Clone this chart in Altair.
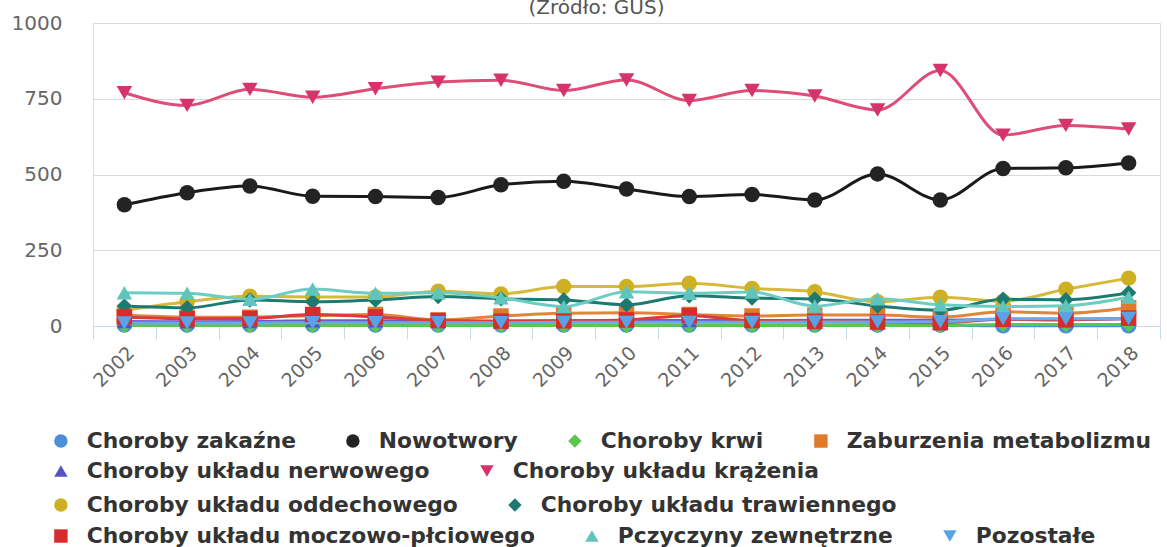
import altair as alt
import pandas as pd

# Lata (oś X)
years = ["2002", "2003", "2004", "2005", "2006", "2007", "2008", "2009", "2010",
         "2011", "2012", "2013", "2014", "2015", "2016", "2017", "2018"]

# Wartości serii
zakazne      = [3, 3, 3, 3, 3, 3, 3, 3, 3, 3, 3, 3, 3, 3, 1, 1, 1]
nowotwory    = [400, 440, 462, 428, 427, 424, 466, 478, 452, 427, 434, 416, 502, 416, 520, 522, 538]
krew         = [2, 2, 2, 2, 2, 2, 2, 2, 2, 2, 2, 2, 2, 2, 5, 5, 5]
metabolizm   = [36, 29, 29, 34, 38, 20, 33, 42, 44, 38, 33, 36, 36, 29, 47, 42, 60]
nerwowy      = [15, 14, 15, 17, 17, 16, 16, 17, 18, 18, 18, 19, 19, 19, 22, 22, 24]
krazenie     = [770, 728, 781, 755, 783, 805, 811, 777, 812, 744, 777, 759, 713, 843, 630, 662, 650]
oddechowy    = [52, 80, 98, 96, 96, 115, 106, 130, 130, 141, 124, 113, 80, 95, 82, 121, 158]
trawienny    = [66, 60, 86, 80, 86, 97, 90, 86, 70, 100, 92, 89, 66, 52, 88, 87, 110]
moczowy      = [30, 24, 25, 38, 30, 18, 16, 17, 20, 34, 18, 15, 13, 11, 22, 20, 26]
zewnetrzne   = [110, 108, 88, 122, 108, 110, 93, 64, 113, 108, 112, 66, 90, 70, 64, 67, 95]
pozostale    = [10, 10, 10, 11, 11, 11, 11, 12, 12, 12, 12, 13, 13, 14, 24, 24, 25]

series = {
    "Choroby zakaźne": zakazne,
    "Nowotwory": nowotwory,
    "Choroby krwi": krew,
    "Zaburzenia metabolizmu": metabolizm,
    "Choroby układu nerwowego": nerwowy,
    "Choroby układu krążenia": krazenie,
    "Choroby układu oddechowego": oddechowy,
    "Choroby układu trawiennego": trawienny,
    "Choroby układu moczowo-płciowego": moczowy,
    "Pczyczyny zewnętrzne": zewnetrzne,
    "Pozostałe": pozostale,
}

marker_colors = {
    "Choroby zakaźne": "#4a8fd8",
    "Nowotwory": "#232323",
    "Choroby krwi": "#5cc64e",
    "Zaburzenia metabolizmu": "#e07b2c",
    "Choroby układu nerwowego": "#5552c6",
    "Choroby układu krążenia": "#d6336b",
    "Choroby układu oddechowego": "#cfb023",
    "Choroby układu trawiennego": "#1e7a70",
    "Choroby układu moczowo-płciowego": "#d82c2c",
    "Pczyczyny zewnętrzne": "#5fc4bb",
    "Pozostałe": "#5aa2e6",
}
line_colors = {
    "Choroby zakaźne": "#4a8fd8",
    "Nowotwory": "#1a1a1a",
    "Choroby krwi": "#5cc64e",
    "Zaburzenia metabolizmu": "#e2843a",
    "Choroby układu nerwowego": "#6a5ccc",
    "Choroby układu krążenia": "#dd4d78",
    "Choroby układu oddechowego": "#d6b93a",
    "Choroby układu trawiennego": "#1e7a70",
    "Choroby układu moczowo-płciowego": "#dc3b3b",
    "Pczyczyny zewnętrzne": "#6ccdc3",
    "Pozostałe": "#6aaae6",
}
shapes = {
    "Choroby zakaźne": "circle",
    "Nowotwory": "circle",
    "Choroby krwi": "diamond",
    "Zaburzenia metabolizmu": "square",
    "Choroby układu nerwowego": "triangle-up",
    "Choroby układu krążenia": "triangle-down",
    "Choroby układu oddechowego": "circle",
    "Choroby układu trawiennego": "diamond",
    "Choroby układu moczowo-płciowego": "square",
    "Pczyczyny zewnętrzne": "triangle-up",
    "Pozostałe": "triangle-down",
}

# Wiersze legendy i ich położenie względem obszaru wykresu
legend_rows = [
    ["Choroby zakaźne", "Nowotwory", "Choroby krwi", "Zaburzenia metabolizmu"],
    ["Choroby układu nerwowego", "Choroby układu krążenia"],
    ["Choroby układu oddechowego", "Choroby układu trawiennego"],
    ["Choroby układu moczowo-płciowego", "Pczyczyny zewnętrzne", "Pozostałe"],
]
legend_y = [407, 437, 471, 502]

records = []
for name, values in series.items():
    for year, v in zip(years, values):
        records.append({"rok": year, "seria": name, "liczba": v})
df = pd.DataFrame(records)

FONT = "DejaVu Sans"

x_enc = alt.X(
    "rok:O",
    sort=years,
    bandPosition=0.5,
    scale=alt.Scale(type="band", paddingInner=0, paddingOuter=0),
    axis=alt.Axis(
        title=None,
        labelAngle=-45,
        labelFont=FONT,
        labelFontSize=19,
        labelColor="#666666",
        labelPadding=4,
        tickBand="extent",
        tickSize=13,
        tickColor="#ccd6eb",
        domainColor="#ccd6eb",
        grid=False,
    ),
)
y_enc = alt.Y(
    "liczba:Q",
    scale=alt.Scale(domain=[0, 1000], nice=False),
    axis=alt.Axis(
        title=None,
        values=[0, 250, 500, 750, 1000],
        format="d",
        domain=False,
        ticks=False,
        labelFont=FONT,
        labelFontSize=20,
        labelColor="#666666",
        labelPadding=31,
        gridColor="#dadada",
        gridWidth=1,
    ),
)

layers = []
for row, ly in zip(legend_rows, legend_y):
    sub = df[df["seria"].isin(row)]
    legend = alt.Legend(
        orient="none",
        legendX=-43,
        legendY=ly,
        direction="horizontal",
        title=None,
        labelFont=FONT,
        labelFontSize=21.8,
        labelFontWeight="bold",
        labelColor="#333333",
        labelLimit=600,
        labelOffset=15,
        columnPadding=46,
        symbolSize=180,
        symbolStrokeWidth=0,
        symbolOpacity=1,
    )
    lines = alt.Chart(sub).mark_line(interpolate="monotone", strokeWidth=3).encode(
        x=x_enc,
        y=y_enc,
        stroke=alt.Stroke(
            "seria:N",
            scale=alt.Scale(domain=row, range=[line_colors[n] for n in row]),
            legend=None,
        ),
    )
    points = alt.Chart(sub).mark_point(filled=True, opacity=1, size=240).encode(
        x=x_enc,
        y=y_enc,
        color=alt.Color(
            "seria:N",
            scale=alt.Scale(domain=row, range=[marker_colors[n] for n in row]),
            legend=legend,
        ),
        shape=alt.Shape(
            "seria:N",
            scale=alt.Scale(domain=row, range=[shapes[n] for n in row]),
            legend=legend,
        ),
    )
    layers += [lines, points]

chart = (
    alt.layer(*layers)
    .resolve_scale(color="independent", shape="independent", stroke="independent")
    .properties(
        width=1067,
        height=303,
        autosize=alt.AutoSizeParams(type="none"),
        padding={"left": 93, "top": 23, "right": 7, "bottom": 221},
        title=alt.TitleParams(
            "(Źródło: GUS)",
            font=FONT,
            fontSize=20,
            fontWeight="normal",
            color="#555555",
            anchor="middle",
            baseline="alphabetic",
            offset=0,
            dx=-30,
            dy=21,
        ),
    )
    .configure_view(stroke=None, strokeWidth=0)
    .configure(background="white")
)

chart.save("out.html", embed_options={"renderer": "svg", "actions": False})
